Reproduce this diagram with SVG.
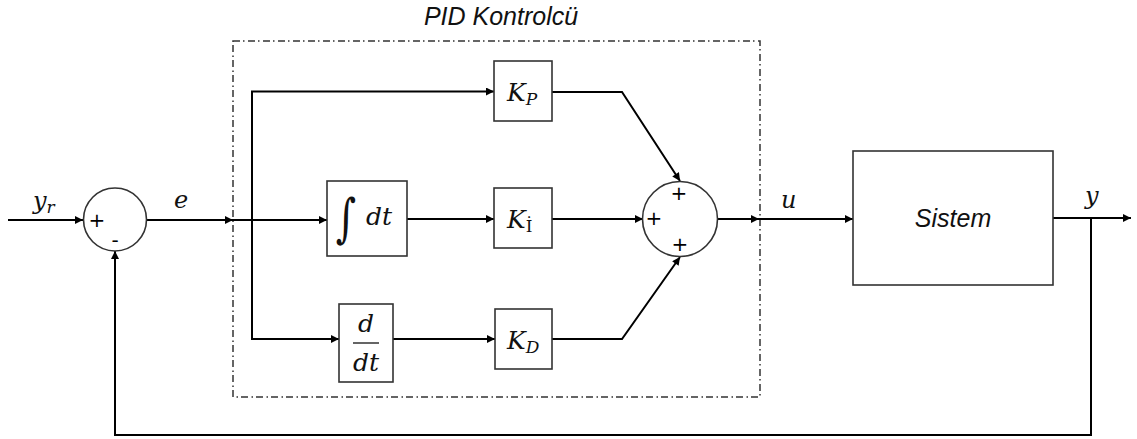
<svg xmlns="http://www.w3.org/2000/svg" width="1137" height="439" viewBox="0 0 1137 439">
<defs>
<marker id="ah" viewBox="0 0 10 10" refX="10" refY="5" markerWidth="10" markerHeight="8" markerUnits="userSpaceOnUse" orient="auto">
<path d="M0,0 L10,5 L0,10 Z" fill="#000"/>
</marker>
</defs>
<style>
.ln{fill:none;stroke:#000;stroke-width:2}
.bx{fill:#fff;stroke:#333;stroke-width:1.6}
.m{font-family:"DejaVu Serif","Liberation Serif",serif;font-style:italic;fill:#111}
.s{font-family:"Liberation Sans",Arial,sans-serif;fill:#111}
.pl{font-family:"DejaVu Sans","Liberation Sans",sans-serif;font-size:20px;fill:#000;text-anchor:middle}
</style>
<rect width="1137" height="439" fill="#fff"/>
<g id="pid-frame">
<rect x="233" y="41" width="527" height="356" fill="none" stroke="#333" stroke-width="1.5" stroke-dasharray="7 3 1.5 3.5"/>
<text class="s" x="501" y="25" font-size="25" font-style="italic" text-anchor="middle">PID Kontrolcü</text>
</g>
<g id="connectors">
<path class="ln" d="M8,220 H83" marker-end="url(#ah)"/>
<path class="ln" d="M147,220 H233" marker-end="url(#ah)"/>
<path class="ln" d="M233,220 H327" marker-end="url(#ah)"/>
<path class="ln" d="M252,220 V91.5 H494" marker-end="url(#ah)"/>
<path class="ln" d="M252,220 V339 H339" marker-end="url(#ah)"/>
<path class="ln" d="M407,219 H494" marker-end="url(#ah)"/>
<path class="ln" d="M552,219 H643" marker-end="url(#ah)"/>
<path class="ln" d="M393,339 H495" marker-end="url(#ah)"/>
<path class="ln" d="M552,92 H622 L680,181" marker-end="url(#ah)"/>
<path class="ln" d="M552,339 H622 L680,257" marker-end="url(#ah)"/>
<path class="ln" d="M717,219 H759" marker-end="url(#ah)"/>
<path class="ln" d="M759,219 H853" marker-end="url(#ah)"/>
<path class="ln" d="M1053,218 H1131" marker-end="url(#ah)"/>
<path class="ln" d="M1091,218 V435 H115 V251" marker-end="url(#ah)"/>
</g>
<g id="sum1">
<circle cx="115" cy="219.5" r="31.5" fill="#fff" stroke="#333" stroke-width="1.6"/>
<text class="pl" x="97" y="227">+</text>
<text class="pl" x="115" y="247">-</text>
</g>
<g id="sum2">
<circle cx="680" cy="219" r="37.5" fill="#fff" stroke="#333" stroke-width="1.6"/>
<text class="pl" x="679" y="200">+</text>
<text class="pl" x="654" y="225">+</text>
<text class="pl" x="680" y="251">+</text>
</g>
<g id="integral">
<rect class="bx" x="327" y="181" width="80" height="75"/>
<text x="346" y="236" font-size="52" font-family="'DejaVu Serif',serif" fill="#111" text-anchor="middle" transform="translate(346 0) scale(0.75 1) translate(-346 0)">∫</text>
<text class="m" x="366" y="225" font-size="25">dt</text>
</g>
<g id="deriv">
<rect class="bx" x="339" y="304" width="54" height="78"/>
<text class="m" x="366" y="332" font-size="25" text-anchor="middle">d</text>
<line x1="353" y1="343" x2="379" y2="343" stroke="#111" stroke-width="1.3"/>
<text class="m" x="366" y="371" font-size="25" text-anchor="middle">dt</text>
</g>
<g id="kp">
<rect class="bx" x="494" y="61" width="58" height="60"/>
<text class="m" x="507" y="101" font-size="25">K<tspan font-size="17" dy="4">P</tspan></text>
</g>
<g id="ki">
<rect class="bx" x="494" y="188" width="58" height="60"/>
<text class="m" x="507" y="228" font-size="25">K<tspan font-size="17" dy="4" font-style="normal">İ</tspan></text>
</g>
<g id="kd">
<rect class="bx" x="495" y="309" width="57" height="60"/>
<text class="m" x="507" y="349" font-size="25">K<tspan font-size="17" dy="4">D</tspan></text>
</g>
<g id="sistem">
<rect class="bx" x="853" y="151" width="200" height="134"/>
<text class="s" x="953" y="227" font-size="25" font-style="italic" text-anchor="middle">Sistem</text>
</g>
<g id="labels">
<text class="m" x="33" y="209" font-size="24">y<tspan font-size="17" dy="4">r</tspan></text>
<text class="m" x="174" y="208" font-size="24">e</text>
<text class="m" x="781" y="208" font-size="24">u</text>
<text class="m" x="1085" y="204" font-size="24">y</text>
</g>
</svg>
